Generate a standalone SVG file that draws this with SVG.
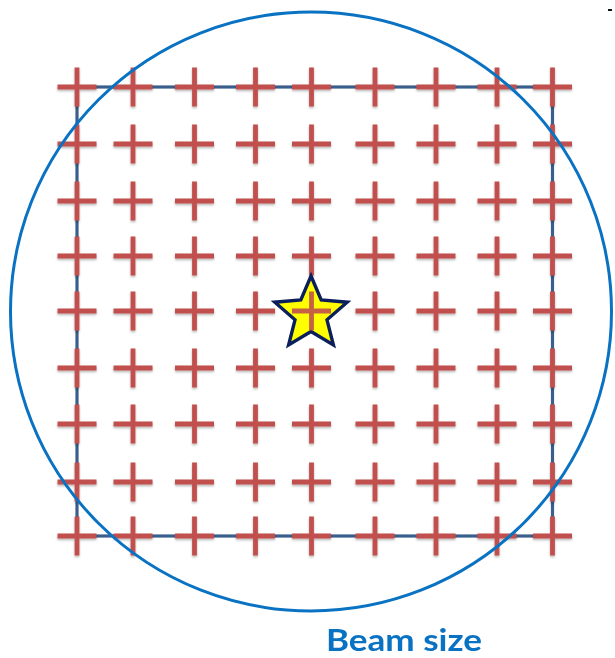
<svg xmlns="http://www.w3.org/2000/svg" xmlns:xlink="http://www.w3.org/1999/xlink" width="615" height="658" viewBox="0 0 615 658">
<defs>
<style>
.frame{fill:none;stroke:#3A5F8C;stroke-width:3.2}
.beam{fill:none;stroke:#0A72C2;stroke-width:3}
.cr{stroke:#C0504D;stroke-width:4.8;fill:none}
.star{fill:#FFFF00;stroke:#0B1F5C;stroke-width:3.4;stroke-linejoin:miter}
.lbl{font-family:Lato,"Open Sans","Liberation Sans",sans-serif;font-weight:bold;font-size:31px;fill:#0A72C2}
</style>
<filter id="sh" x="-20%" y="-20%" width="140%" height="150%">
<feDropShadow dx="0" dy="1.5" stdDeviation="1" flood-color="#000" flood-opacity="0.3"/>
</filter>
<path id="c" class="cr" d="M-19.5,0H19.5M0,-19.5V19.5"/>
</defs>
<rect width="615" height="658" fill="#fff"/>
<g id="frame"><rect class="frame" x="77" y="87" width="475.5" height="449"/></g>
<g id="grid" filter="url(#sh)">
<g id="row1"><use href="#c" x="77" y="87"/><use href="#c" x="133" y="87"/><use href="#c" x="194.5" y="87"/><use href="#c" x="255.5" y="87"/><use href="#c" x="311.5" y="87"/><use href="#c" x="375" y="87"/><use href="#c" x="436" y="87"/><use href="#c" x="497" y="87"/><use href="#c" x="552.5" y="87"/></g>
<g id="row2"><use href="#c" x="77" y="144"/><use href="#c" x="133" y="144"/><use href="#c" x="194.5" y="144"/><use href="#c" x="255.5" y="144"/><use href="#c" x="311.5" y="144"/><use href="#c" x="375" y="144"/><use href="#c" x="436" y="144"/><use href="#c" x="497" y="144"/><use href="#c" x="552.5" y="144"/></g>
<g id="row3"><use href="#c" x="77" y="201"/><use href="#c" x="133" y="201"/><use href="#c" x="194.5" y="201"/><use href="#c" x="255.5" y="201"/><use href="#c" x="311.5" y="201"/><use href="#c" x="375" y="201"/><use href="#c" x="436" y="201"/><use href="#c" x="497" y="201"/><use href="#c" x="552.5" y="201"/></g>
<g id="row4"><use href="#c" x="77" y="256"/><use href="#c" x="133" y="256"/><use href="#c" x="194.5" y="256"/><use href="#c" x="255.5" y="256"/><use href="#c" x="311.5" y="256"/><use href="#c" x="375" y="256"/><use href="#c" x="436" y="256"/><use href="#c" x="497" y="256"/><use href="#c" x="552.5" y="256"/></g>
<g id="row5"><use href="#c" x="77" y="311"/><use href="#c" x="133" y="311"/><use href="#c" x="194.5" y="311"/><use href="#c" x="255.5" y="311"/><use href="#c" x="375" y="311"/><use href="#c" x="436" y="311"/><use href="#c" x="497" y="311"/><use href="#c" x="552.5" y="311"/></g>
<g id="row6"><use href="#c" x="77" y="368"/><use href="#c" x="133" y="368"/><use href="#c" x="194.5" y="368"/><use href="#c" x="255.5" y="368"/><use href="#c" x="311.5" y="368"/><use href="#c" x="375" y="368"/><use href="#c" x="436" y="368"/><use href="#c" x="497" y="368"/><use href="#c" x="552.5" y="368"/></g>
<g id="row7"><use href="#c" x="77" y="424"/><use href="#c" x="133" y="424"/><use href="#c" x="194.5" y="424"/><use href="#c" x="255.5" y="424"/><use href="#c" x="311.5" y="424"/><use href="#c" x="375" y="424"/><use href="#c" x="436" y="424"/><use href="#c" x="497" y="424"/><use href="#c" x="552.5" y="424"/></g>
<g id="row8"><use href="#c" x="77" y="482"/><use href="#c" x="133" y="482"/><use href="#c" x="194.5" y="482"/><use href="#c" x="255.5" y="482"/><use href="#c" x="311.5" y="482"/><use href="#c" x="375" y="482"/><use href="#c" x="436" y="482"/><use href="#c" x="497" y="482"/><use href="#c" x="552.5" y="482"/></g>
<g id="row9"><use href="#c" x="77" y="536"/><use href="#c" x="133" y="536"/><use href="#c" x="194.5" y="536"/><use href="#c" x="255.5" y="536"/><use href="#c" x="311.5" y="536"/><use href="#c" x="375" y="536"/><use href="#c" x="436" y="536"/><use href="#c" x="497" y="536"/><use href="#c" x="552.5" y="536"/></g>
</g>
<g id="target">
<polygon class="star" points="311,276 321.2,300 347.2,302.2 327,319.8 333.4,345 311,331.5 288.6,345 295,319.8 274.8,302.2 300.8,300"/>
<use href="#c" x="311.5" y="311" opacity="0.9"/>
</g>
<g id="beam"><ellipse class="beam" cx="311" cy="311.5" rx="300.5" ry="299.5"/></g>
<g id="label"><text class="lbl" x="326" y="651" textLength="156" lengthAdjust="spacingAndGlyphs">Beam size</text></g>
<rect x="608" y="9" width="4" height="2" fill="#111"/>
</svg>
